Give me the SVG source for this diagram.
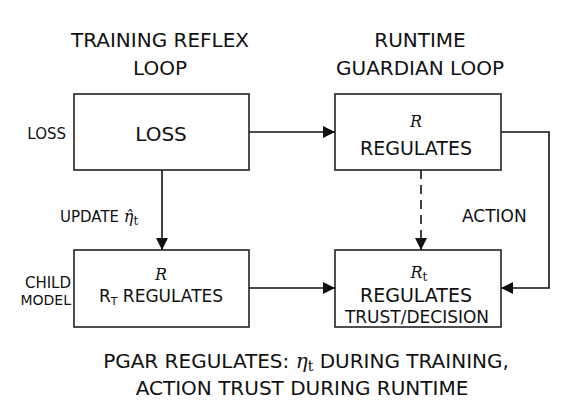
<svg xmlns="http://www.w3.org/2000/svg" width="582" height="414" viewBox="0 0 582 414">
<style>
.t{font-family:"DejaVu Sans","Liberation Sans",sans-serif;fill:#111}
.m{font-family:"DejaVu Serif","Liberation Serif",serif;font-style:italic;fill:#111}
.u{font-family:"DejaVu Serif","Liberation Serif",serif;fill:#111}
.box{fill:#fff;stroke:#222;stroke-width:1.6}
.ln{fill:none;stroke:#111;stroke-width:1.6}
</style>
<defs>
<marker id="ah" markerWidth="12" markerHeight="12" refX="12" refY="6" orient="auto" markerUnits="userSpaceOnUse">
<path d="M0,0 L12,6 L0,12 Z" fill="#111"/>
</marker>
</defs>
<rect width="582" height="414" fill="#fff"/>
<g id="titles" class="t" font-size="20" text-anchor="middle">
<text x="160" y="47">TRAINING REFLEX</text>
<text x="160" y="75">LOOP</text>
<text x="420" y="47">RUNTIME</text>
<text x="420" y="75">GUARDIAN LOOP</text>
</g>
<g id="connectors">
<path class="ln" d="M249,132 H335" marker-end="url(#ah)"/>
<path class="ln" d="M162,170 V250" marker-end="url(#ah)"/>
<path class="ln" d="M421,170 V250" stroke-dasharray="9,6" marker-end="url(#ah)"/>
<path class="ln" d="M501,132 H549 V288 H501" marker-end="url(#ah)"/>
<path class="ln" d="M249,288 H335" marker-end="url(#ah)"/>
</g>
<g id="loss">
<rect class="box" x="74" y="94" width="175" height="76"/>
<text class="t" x="161" y="141" font-size="20" text-anchor="middle">LOSS</text>
</g>
<g id="regulates">
<rect class="box" x="335" y="94" width="166" height="76"/>
<text class="m" x="416" y="127" font-size="16" text-anchor="middle">R</text>
<text class="t" x="416" y="155" font-size="19" text-anchor="middle">REGULATES</text>
</g>
<g id="rt-regulates">
<rect class="box" x="74" y="250" width="175" height="77"/>
<text class="m" x="161" y="280" font-size="16" text-anchor="middle">R</text>
<text class="t" x="161" y="302" font-size="17" text-anchor="middle">R<tspan font-size="11" dy="3">T</tspan><tspan dy="-3"> REGULATES</tspan></text>
</g>
<g id="trust-decision">
<rect class="box" x="335" y="250" width="166" height="77"/>
<text x="419" y="278" text-anchor="middle"><tspan class="m" font-size="16">R</tspan><tspan class="u" font-size="12" dy="3">t</tspan></text>
<text class="t" x="416" y="302" font-size="19" text-anchor="middle">REGULATES</text>
<text class="t" x="417" y="323" font-size="17" text-anchor="middle">TRUST/DECISION</text>
</g>
<g id="labels" class="t" font-size="15">
<text x="66" y="139" text-anchor="end">LOSS</text>
<text x="71" y="288" text-anchor="end">CHILD</text>
<text x="71" y="305" text-anchor="end" font-size="14">MODEL</text>
<text x="60" y="222">UPDATE <tspan class="m" font-size="16">η̂</tspan><tspan class="u" font-size="12" dy="3">t</tspan></text>
<text x="462" y="222" font-size="17">ACTION</text>
</g>
<g id="caption" class="t" font-size="20" text-anchor="middle">
<text x="306" y="368">PGAR REGULATES: <tspan class="m">η</tspan><tspan class="u" font-size="14" dy="3">t</tspan><tspan dy="-3"> DURING TRAINING,</tspan></text>
<text x="302" y="395">ACTION TRUST DURING RUNTIME</text>
</g>
</svg>
